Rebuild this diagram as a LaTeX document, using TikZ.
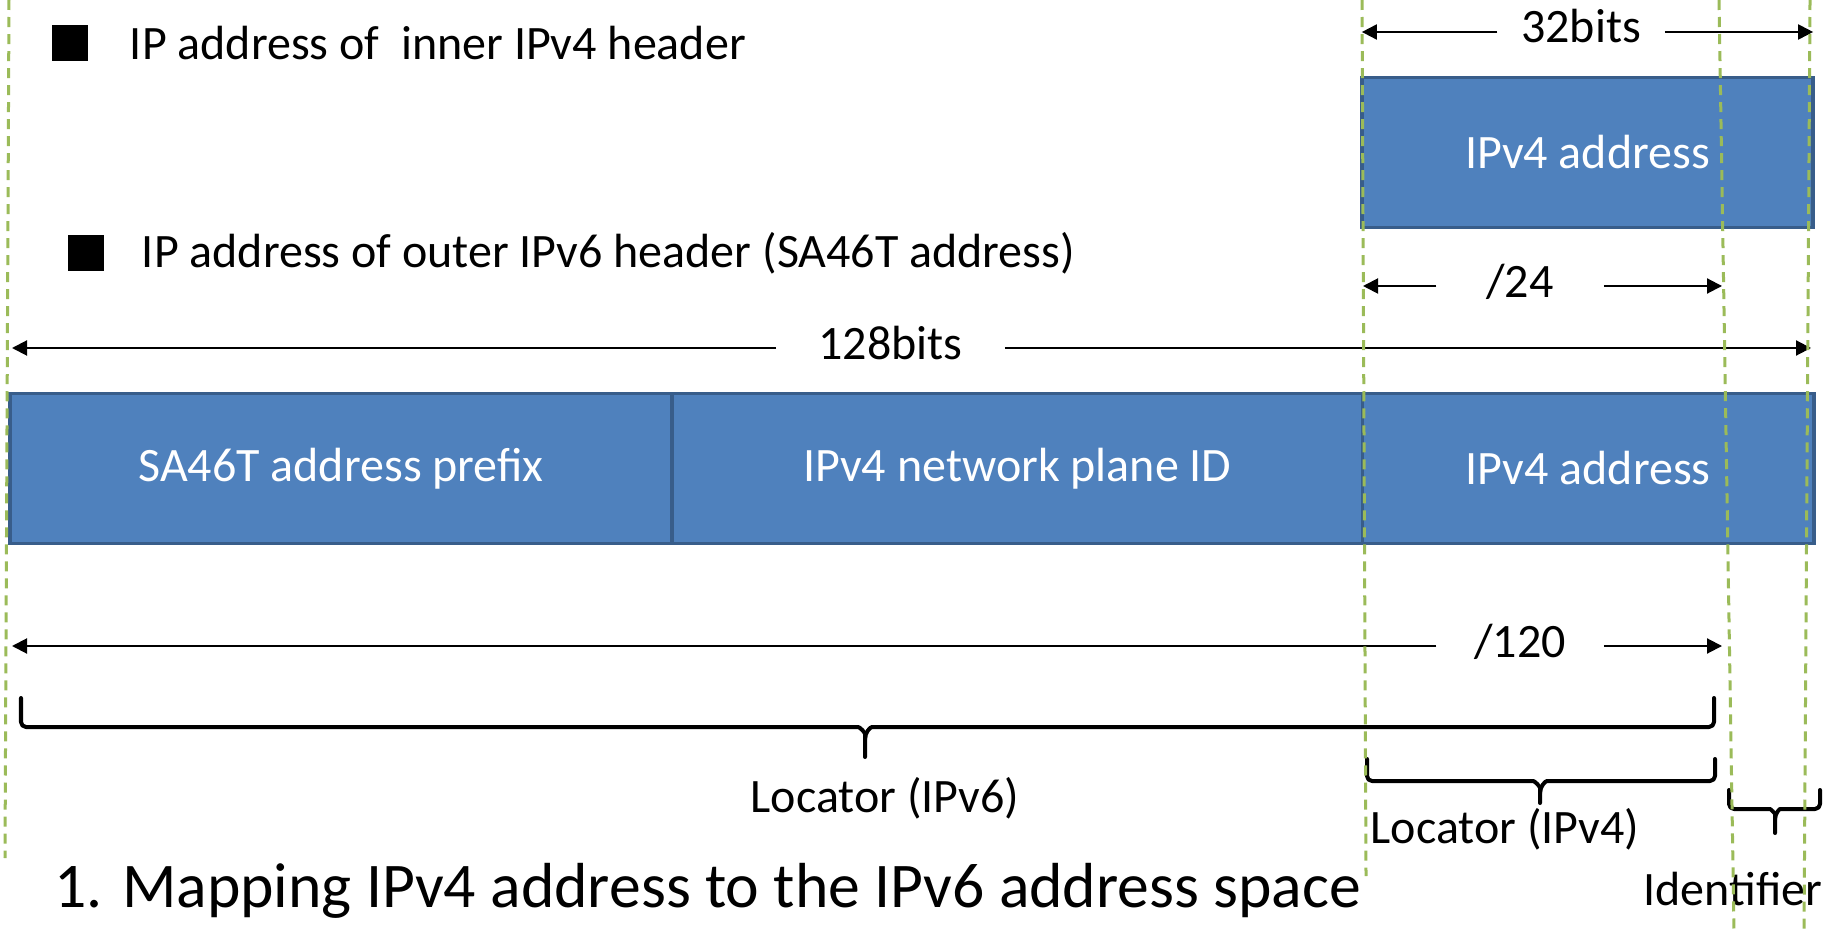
\documentclass[tikz,border=0pt]{standalone}
\usepackage{fontspec}
\setmainfont{Carlito}
\usetikzlibrary{positioning,arrows.meta}
\definecolor{fieldblue}{HTML}{4F81BD}
\definecolor{fieldedge}{HTML}{385D8A}
\definecolor{guidegreen}{HTML}{9BBB59}

\begin{document}
\begin{tikzpicture}
  [ x=0.01cm, y=-0.01cm,
  every node/.style={font=\fontsize{13.65pt}{16pt}\selectfont}]
  \tikzset{
    field/.style={
      rectangle,
      draw=fieldedge, fill=fieldblue,
      line width=0.035cm,
      minimum height=1.5cm,
      outer sep=0pt,
      text=white,
    },
    note/.style={inner sep=0pt},
    bullet/.style={fill=black, minimum size=0.35cm, inner sep=0pt},
    dimlabel/.style={inner sep=0pt, text height=0.34cm, text depth=0.12cm},
    dim/.style={-{Triangle[length=0.15cm, width=0.15cm]}, line width=0.02cm},
    bracket/.style={line width=0.04cm, line cap=round, line join=round, rounded corners=0.05cm},
    guide/.style={guidegreen, line width=0.03cm, dash pattern=on 0.1cm off 0.07cm},
  }
  \useasboundingbox (0,0) rectangle (1831,931);

  \coordinate (b0)   at (12,0);
  \coordinate (b96)  at (1363,0);
  \coordinate (b120) at (1722,0);
  \coordinate (b128) at (1811,0);

  \node[bullet] (sq1) at (70,43) {};
  \node[note, right=0.41cm of sq1] (hdr4) {IP address of\ \ inner IPv4 header};
  \node[bullet] (sq2) at (86,253) {};
  \node[note, right=0.37cm of sq2] (hdr6) {IP address of outer IPv6 header (SA46T address)};

  \node[field, minimum width=4.51cm] (inner) at (1587.5,152.5) {IPv4 address};

  \node[field, minimum width=6.62cm] (prefix) at (341,468.5) {SA46T address prefix};
  \node[field, minimum width=6.9cm, right=0pt of prefix] (plane) {IPv4 network plane ID};
  \node[field, minimum width=4.51cm, right=0pt of plane] (v4addr) {IPv4 address};

  \node[dimlabel, minimum width=1.66cm] (t32) at (1581,32) {32bits};
  \draw[dim] (t32.west) -- (t32.west -| inner.west);
  \draw[dim] (t32.east) -- (t32.east -| inner.east);

  \node[dimlabel, minimum width=1.66cm] (t24) at (1520,286) {/24};
  \draw[dim] (t24.west) -- (t24.west -| b96);
  \draw[dim] (t24.east) -- (t24.east -| b120);

  \node[dimlabel, minimum width=2.27cm] (t128) at (890.5,348) {128bits};
  \draw[dim] (t128.west) -- (t128.west -| b0);
  \draw[dim] (t128.east) -- (t128.east -| b128);

  \node[dimlabel, minimum width=1.66cm] (t120) at (1520,646) {/120};
  \draw[dim] (t120.west) -- (t120.west -| b0);
  \draw[dim] (t120.east) -- (t120.east -| b120);

  \draw[bracket] (21,698) |- (853,727) to[out=0,in=90] (865,739) -- (865,757);
  \draw[bracket] (1714,698) |- (877,727) to[out=180,in=90] (865,739);
  \node[note] (locv6) at (885,798) {Locator (IPv6)};

  \draw[bracket] (1367,759) |- (1528,781) to[out=0,in=90] (1540,793) -- (1540,803);
  \draw[bracket] (1715,759) |- (1552,781) to[out=180,in=90] (1540,793);
  \node[note] (locv4) at (1505,829) {Locator (IPv4)};

  \draw[bracket] (1729,790) |- (1765,809) to[out=0,in=90] (1775,819) -- (1775,833);
  \draw[bracket] (1820,790) |- (1785,809) to[out=180,in=90] (1775,819);
  \node[note] (ident) at (1733,889) {Identifier};

  \node[note, anchor=west, font=\fontsize{18.1pt}{21pt}\selectfont] (caption) at (54,891)
    {1. Mapping IPv4 address to the IPv6 address space};

  \draw[guide] (9,0) -- (5,858);
  \draw[guide] (1362,0) -- (1366,876);
  \draw[guide] (1719,0) -- (1734,931);
  \draw[guide] (1810,0) -- (1804,931);
\end{tikzpicture}
\end{document}
